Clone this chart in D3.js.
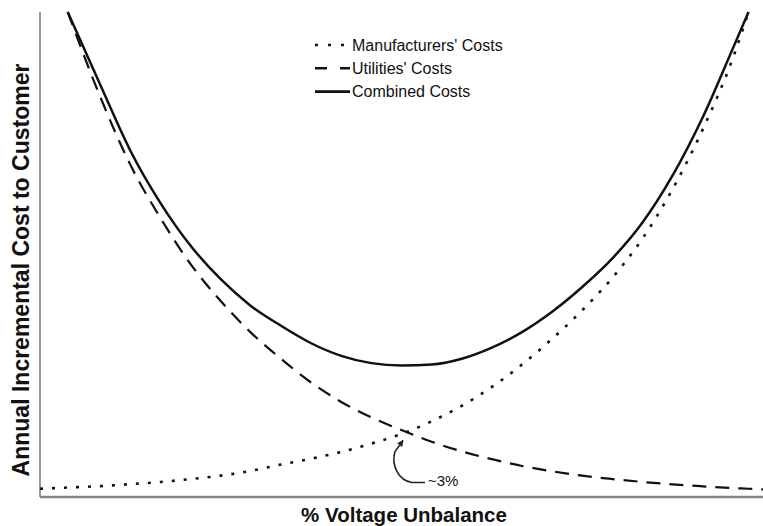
<!DOCTYPE html>
<html>
<head>
<meta charset="utf-8">
<script src="https://cdn.jsdelivr.net/npm/d3@7"></script>
<style>
  body { margin: 0; background: #fff; }
  svg { display: block; }
  text { font-family: "Liberation Sans", Arial, Helvetica, sans-serif; fill: #111; }
</style>
</head>
<body>
<div id="chart"></div>
<script>
// % voltage unbalance (x) and cost curves (relative units, 0-100)
const pctUnbalance = [0, 0.23, 0.5, 0.75, 1.0, 1.25, 1.5, 1.75, 2.0, 2.25, 2.5, 2.75, 3.0,
  3.25, 3.5, 3.75, 4.0, 4.25, 4.5, 4.75, 5.0, 5.25, 5.5, 5.75, 5.88, 6.0];
const manufacturersCost = [1.7, 1.95, 2.25, 2.65, 3.1, 3.7, 4.4, 5.4, 6.7, 7.9, 9.3, 11.0, 13.0,
  15.6, 18.8, 22.7, 27.3, 32.6, 38.5, 45.2, 53.3, 63.5, 75.8, 90.5, 100, null];
const utilitiesCost = [null, 100, 82.5, 68.5, 57.5, 48, 40.4, 33.9, 28.5, 23.6, 19.6, 16.4, 13.8,
  11.4, 9.4, 7.8, 6.4, 5.3, 4.4, 3.7, 3.1, 2.6, 2.2, 1.85, 1.7, 1.55];
const combinedCost = [null, 100, 85, 71.4, 60.6, 51.8, 44.9, 39.4, 35.3, 31.7, 29.1, 27.6, 27.1,
  27.3, 28.5, 30.8, 34.0, 38.2, 43.3, 49.2, 56.6, 66.3, 78.3, 92.5, 100, null];

const seriesNames = ["Manufacturers' Costs", "Utilities' Costs", "Combined Costs"];
const crossPct = 3.0;
const crossLabel = "~3%";

const width = 763, height = 526;
const margin = { top: 12, right: 0, bottom: 29, left: 40 };

const svg = d3.select("#chart").append("svg")
  .attr("width", width)
  .attr("height", height);

const x = d3.scaleLinear()
  .domain([0, 6])
  .range([margin.left, width - margin.right]);

const y = d3.scaleLinear()
  .domain([0, 100])
  .range([height - margin.bottom, margin.top]);

// axes: plain lines, no ticks
svg.append("line")
  .attr("x1", x(0)).attr("x2", x(0))
  .attr("y1", y(0)).attr("y2", y(100))
  .attr("stroke", "#999").attr("stroke-width", 2);
svg.append("line")
  .attr("x1", x(0)).attr("x2", x(6))
  .attr("y1", y(0)).attr("y2", y(0))
  .attr("stroke", "#888").attr("stroke-width", 2.5);

const styles = [
  { values: manufacturersCost, dash: "3,9", width: 2.6, legendDash: "3,10" },
  { values: utilitiesCost, dash: "14,9", width: 2.2, legendDash: "12,13" },
  { values: combinedCost, dash: null, width: 2.5, legendDash: null }
];

const line = d3.line()
  .defined(d => d[1] != null)
  .x(d => x(d[0]))
  .y(d => y(d[1]))
  .curve(d3.curveMonotoneX);

styles.forEach(function (s) {
  svg.append("path")
    .datum(pctUnbalance.map((p, i) => [p, s.values[i]]))
    .attr("d", line)
    .attr("fill", "none")
    .attr("stroke", "#111")
    .attr("stroke-width", s.width)
    .attr("stroke-dasharray", s.dash);
});

// legend
const legend = svg.append("g").attr("transform", "translate(315,45)");
styles.forEach(function (s, i) {
  const g = legend.append("g").attr("transform", "translate(0," + (i * 23.3) + ")");
  g.append("line")
    .attr("x1", 0).attr("x2", 35)
    .attr("stroke", "#111")
    .attr("stroke-width", 2.6)
    .attr("stroke-dasharray", s.legendDash);
  g.append("text")
    .attr("x", 37)
    .attr("y", 5.5)
    .style("font-size", "16px")
    .text(seriesNames[i]);
});

// annotation arrow at crossing point
svg.append("defs").append("marker")
  .attr("id", "arrow")
  .attr("viewBox", "0 0 10 10")
  .attr("refX", 9).attr("refY", 5)
  .attr("markerWidth", 4).attr("markerHeight", 4)
  .attr("orient", "auto")
  .append("path")
  .attr("d", "M0,0L10,5L0,10Z")
  .attr("fill", "#222");

const tipX = x(crossPct) + 1.5;
const tipY = y(13.3) + 8;
svg.append("path")
  .attr("d", "M" + (tipX + 22) + "," + (tipY + 42) +
    "L" + (tipX + 9) + "," + (tipY + 42) +
    "C" + (tipX - 5) + "," + (tipY + 40) + " " + (tipX - 12) + "," + (tipY + 24) + " " + (tipX - 8) + "," + (tipY + 11) +
    "L" + tipX + "," + tipY)
  .attr("fill", "none")
  .attr("stroke", "#222")
  .attr("stroke-width", 1.6)
  .attr("marker-end", "url(#arrow)");
svg.append("text")
  .attr("x", tipX + 25)
  .attr("y", tipY + 46)
  .style("font-size", "15px")
  .text(crossLabel);

// axis titles
svg.append("text")
  .attr("x", 404)
  .attr("y", 522)
  .attr("text-anchor", "middle")
  .style("font-size", "20.5px")
  .style("font-weight", "bold")
  .text("% Voltage Unbalance");

svg.append("text")
  .attr("transform", "translate(29,270) rotate(-90)")
  .attr("text-anchor", "middle")
  .style("font-size", "23px")
  .style("font-weight", "bold")
  .text("Annual Incremental Cost to Customer");
</script>
</body>
</html>
